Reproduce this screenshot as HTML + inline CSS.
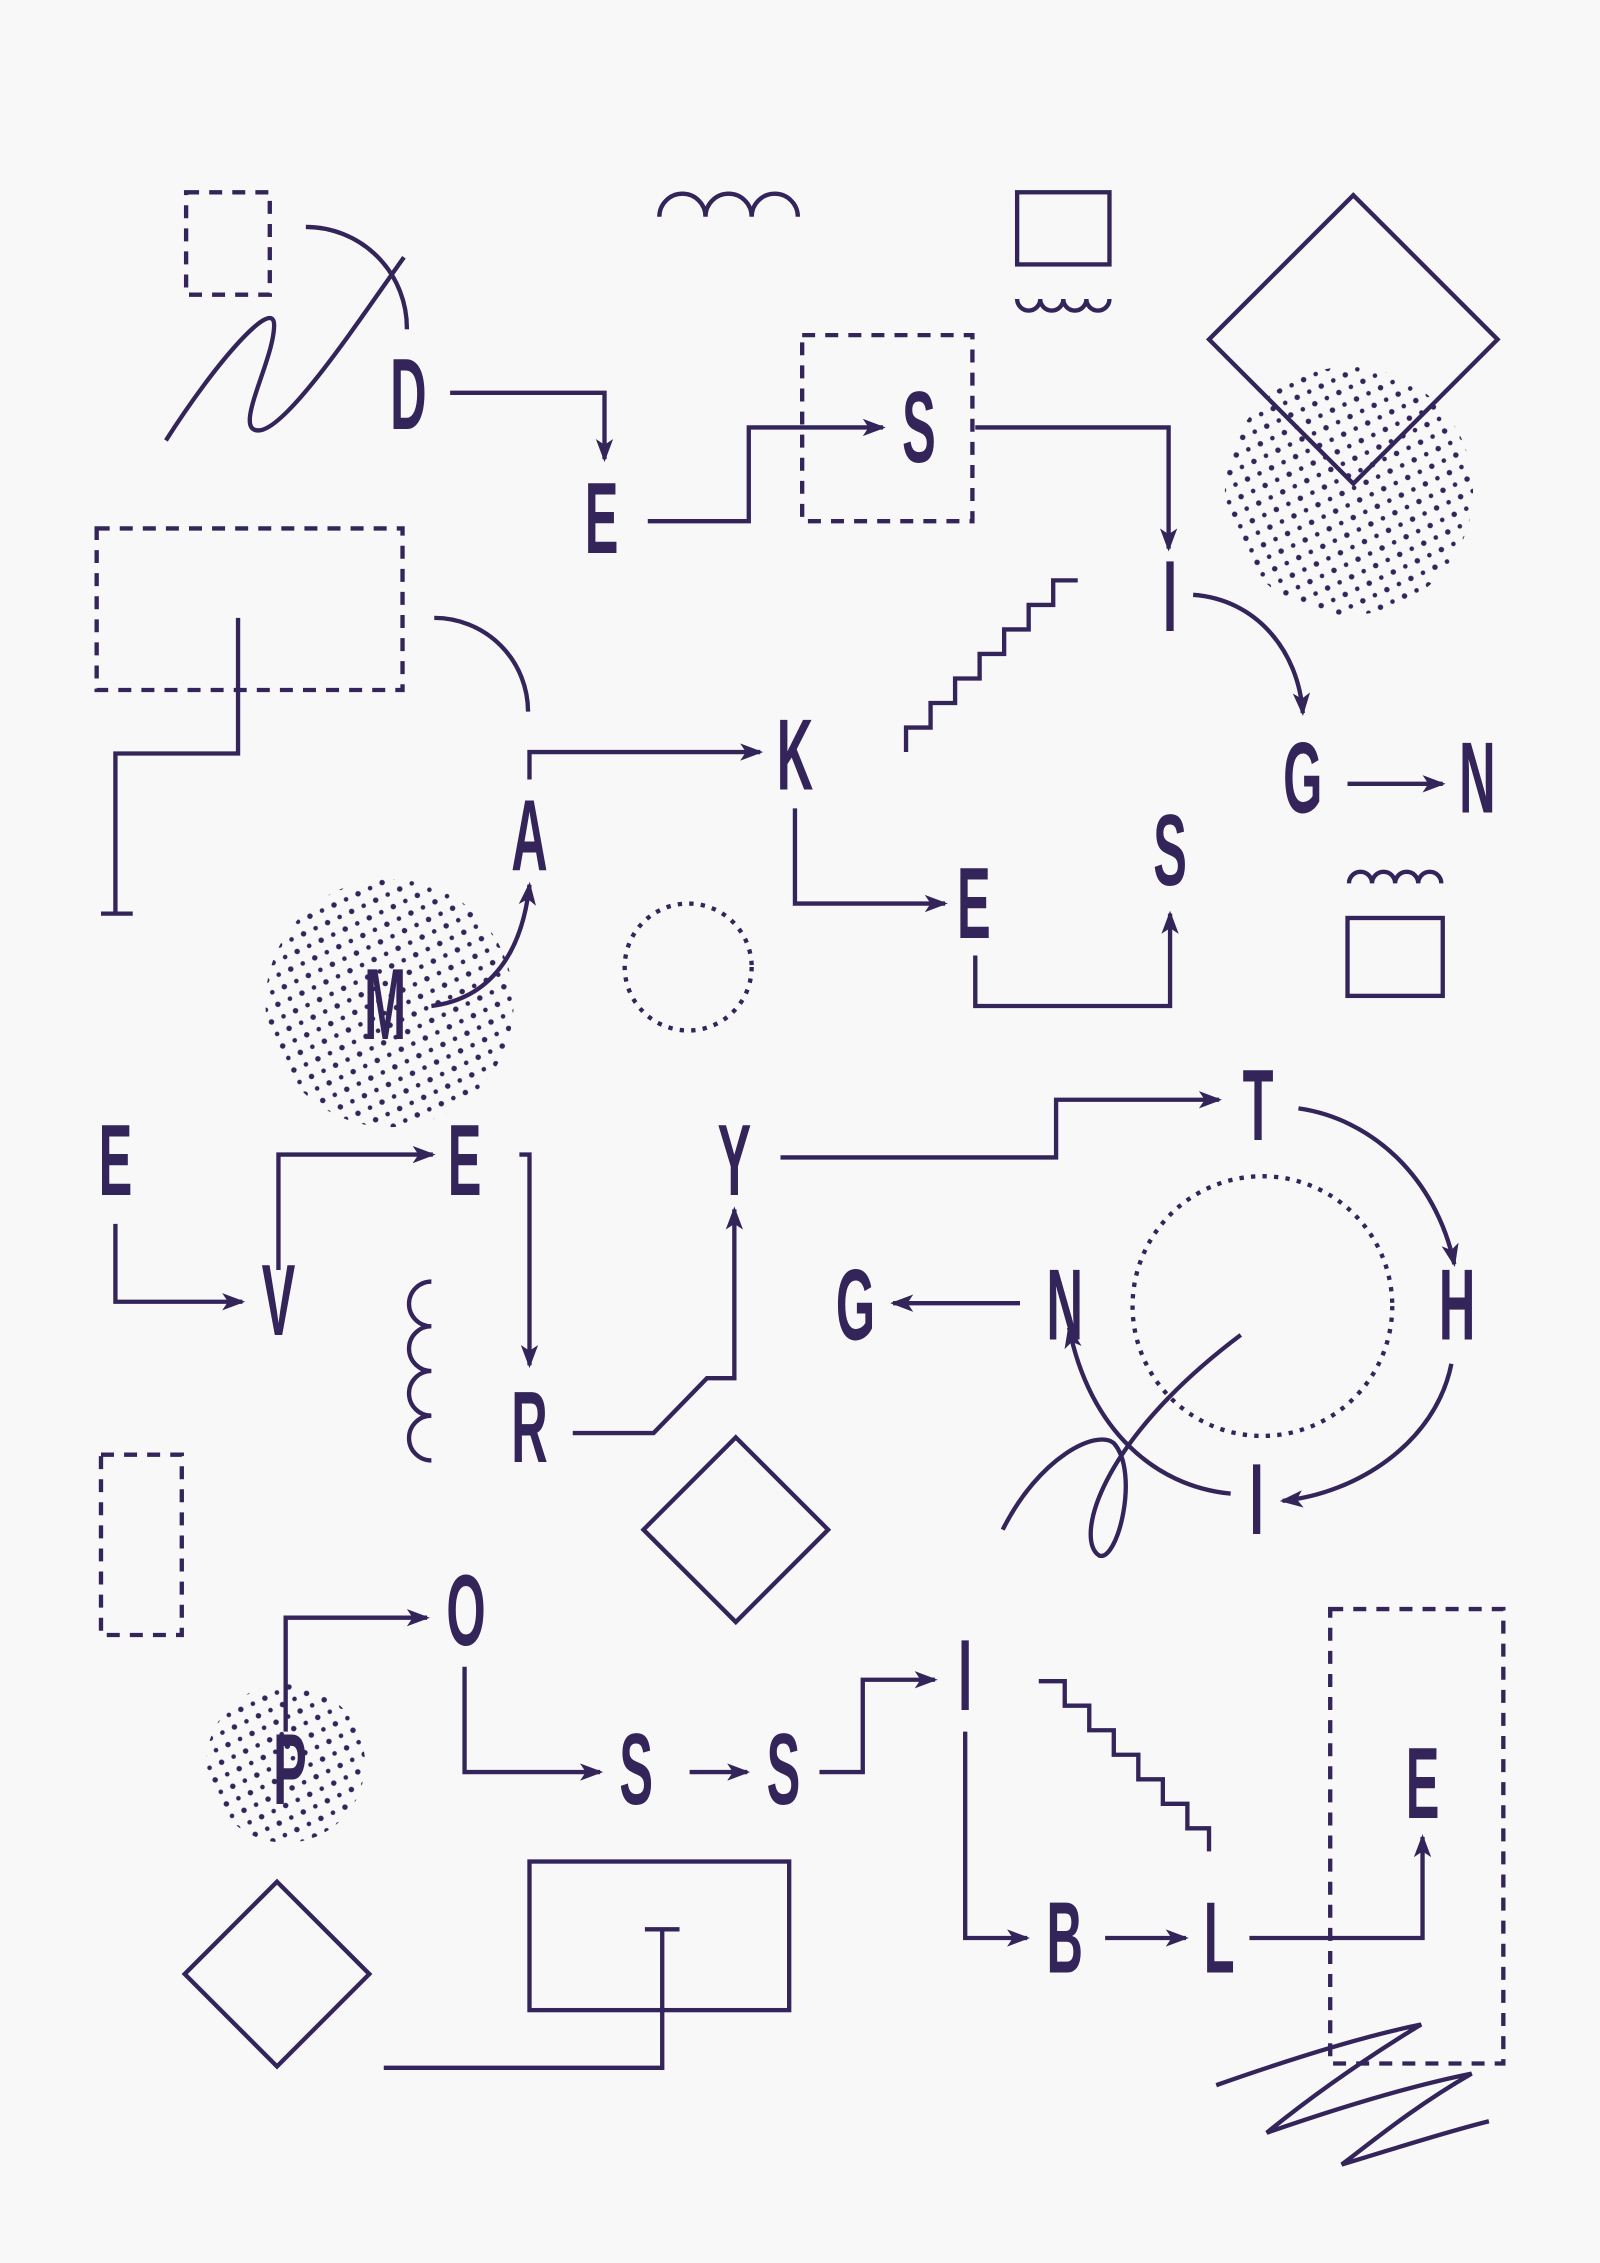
<!DOCTYPE html>
<html><head><meta charset="utf-8"><style>html,body{margin:0;padding:0;background:#f9f8f9}svg{display:block}</style></head>
<body>
<svg width="1600" height="2263" viewBox="0 0 1109 1568" xmlns="http://www.w3.org/2000/svg">
<defs>
<pattern id="dots" width="13" height="13" patternUnits="userSpaceOnUse" patternTransform="rotate(20)">
<circle cx="3" cy="3" r="1.9" fill="#33245a"/><circle cx="9.5" cy="9.5" r="1.6" fill="#33245a"/>
</pattern>
<marker id="ar" markerWidth="16" markerHeight="12" refX="14" refY="6" orient="auto" markerUnits="userSpaceOnUse">
<path d="M0,0 L16,6 L0,12 L4,6 Z" fill="#33245a"/>
</marker>
</defs>
<rect width="1109" height="1568" fill="#f9f8f9"/>
<g fill="none" stroke="#33245a" stroke-width="3">
<g stroke="none">
<circle cx="935" cy="340" r="86" fill="url(#dots)"/>
<circle cx="270" cy="695" r="86" fill="url(#dots)"/>
<circle cx="198" cy="1222" r="55" fill="url(#dots)"/>
</g>
<g stroke-dasharray="9,7">
<rect x="129" y="133" width="58" height="71"/>
<rect x="556" y="232" width="118" height="129"/>
<rect x="67" y="366" width="212" height="112"/>
<rect x="70" y="1008" width="56" height="125"/>
<rect x="922" y="1115" width="120" height="315"/>
</g>
<g stroke-dasharray="3,5">
<circle cx="477" cy="670" r="44"/>
<circle cx="875" cy="905" r="90"/>
</g>
<path d="M212,157 A70,70 0 0 1 282,228"/>
<path d="M115,305 C150,250 190,205 190,225 C190,250 160,300 180,298 C200,296 250,220 280,178"/>
<path d="M457,150 a16,16 0 0 1 32,0 a16,16 0 0 1 32,0 a16,16 0 0 1 32,0"/>
<rect x="705" y="133" width="64" height="50"/>
<path d="M705,207 a8,8 0 0 0 16,0 a8,8 0 0 0 16,0 a8,8 0 0 0 16,0 a8,8 0 0 0 16,0"/>
<path d="M938,135 L1038,235 L938,335 L838,235 Z"/>
<path d="M165,428 V522 H80 V633 M70,633 H92"/>
<path d="M301,428 A65,65 0 0 1 366,493"/>
<path d="M628,521 V504 H645 V487 H662 V470 H679 V453 H696 V436 H713 V419 H730 V402 H747"/>
<path d="M935,612 a8,8 0 0 1 16,0 a8,8 0 0 1 16,0 a8,8 0 0 1 16,0 a8,8 0 0 1 16,0"/>
<rect x="934" y="636" width="66" height="54"/>
<path d="M299,888 a15.5,15.5 0 0 0 0,31 a15.5,15.5 0 0 0 0,31 a15.5,15.5 0 0 0 0,31 a15.5,15.5 0 0 0 0,31"/>
<path d="M695,1060 C720,1010 760,990 772,1000 C790,1020 775,1082 762,1078 C745,1068 760,1000 860,925"/>
<path d="M510,996 L574,1060 L510,1124 L446,1060 Z"/>
<path d="M720,1165 H738 V1182 H755 V1199 H772 V1216 H789 V1233 H806 V1250 H823 V1267 H838 V1283"/>
<path d="M192,1304 L256,1368 L192,1432 L128,1368 Z"/>
<rect x="367" y="1290" width="180" height="103"/>
<path d="M266,1433 H459 V1337 M447,1337 H471"/>
<path d="M843,1445 C900,1425 950,1410 985,1403 C940,1430 900,1460 878,1478 C930,1460 980,1445 1020,1437 C980,1460 950,1485 930,1500 C970,1488 1000,1478 1032,1470"/>
<g marker-end="url(#ar)">
<path d="M312,272 H419 V318"/>
<path d="M449,361 H519 V296 H612"/>
<path d="M676,296 H810 V380"/>
<path d="M827,412 C870,415 900,450 903,494"/>
<path d="M934,543 H1000"/>
<path d="M367,540 V521 H527"/>
<path d="M551,560 V626 H655"/>
<path d="M676,662 V697 H811 V633"/>
<path d="M299,697 C340,692 362,660 367,613"/>
<path d="M80,848 V902 H168"/>
<path d="M193,880 V800 H300"/>
<path d="M360,800 H367 V946"/>
<path d="M397,993 H453 L490,955 H509 V838"/>
<path d="M541,802 H732 V762 H845"/>
<path d="M900,768 C950,775 995,815 1008,876"/>
<path d="M1006,945 C995,1000 940,1035 889,1040"/>
<path d="M853,1035 C800,1030 755,990 741,920"/>
<path d="M707,903 H619"/>
<path d="M198,1200 V1121 H296"/>
<path d="M322,1155 V1228 H416"/>
<path d="M478,1228 H518"/>
<path d="M568,1228 H598 V1164 H648"/>
<path d="M669,1200 V1343 H712"/>
<path d="M766,1343 H822"/>
<path d="M866,1343 H986 V1273"/>
</g>
</g>
<g fill="#33245a" font-family="Liberation Sans, sans-serif" font-weight="bold" font-size="70" text-anchor="middle">
<text transform="translate(283,297) scale(0.5,1)">D</text>
<text transform="translate(417,383) scale(0.5,1)">E</text>
<text transform="translate(637,320) scale(0.5,1)">S</text>
<text transform="translate(811,437) scale(0.5,1)">I</text>
<text transform="translate(903,563) scale(0.5,1)">G</text>
<text transform="translate(1024,563) scale(0.5,1)">N</text>
<text transform="translate(551,547) scale(0.5,1)">K</text>
<text transform="translate(367,603) scale(0.5,1)">A</text>
<text transform="translate(675,650) scale(0.5,1)">E</text>
<text transform="translate(811,613) scale(0.5,1)">S</text>
<text transform="translate(267,720) scale(0.5,1)">M</text>
<text transform="translate(80,828) scale(0.5,1)">E</text>
<text transform="translate(193,925) scale(0.5,1)">V</text>
<text transform="translate(322,828) scale(0.5,1)">E</text>
<text transform="translate(367,1013) scale(0.5,1)">R</text>
<text transform="translate(509,828) scale(0.5,1)">Y</text>
<text transform="translate(872,790) scale(0.5,1)">T</text>
<text transform="translate(1010,928) scale(0.5,1)">H</text>
<text transform="translate(738,928) scale(0.5,1)">N</text>
<text transform="translate(593,928) scale(0.5,1)">G</text>
<text transform="translate(871,1063) scale(0.5,1)">I</text>
<text transform="translate(323,1140) scale(0.5,1)">O</text>
<text transform="translate(441,1250) scale(0.5,1)">S</text>
<text transform="translate(543,1250) scale(0.5,1)">S</text>
<text transform="translate(201,1250) scale(0.5,1)">P</text>
<text transform="translate(669,1185) scale(0.5,1)">I</text>
<text transform="translate(738,1367) scale(0.5,1)">B</text>
<text transform="translate(845,1367) scale(0.5,1)">L</text>
<text transform="translate(986,1260) scale(0.5,1)">E</text>
</g>
</svg>
</body></html>
